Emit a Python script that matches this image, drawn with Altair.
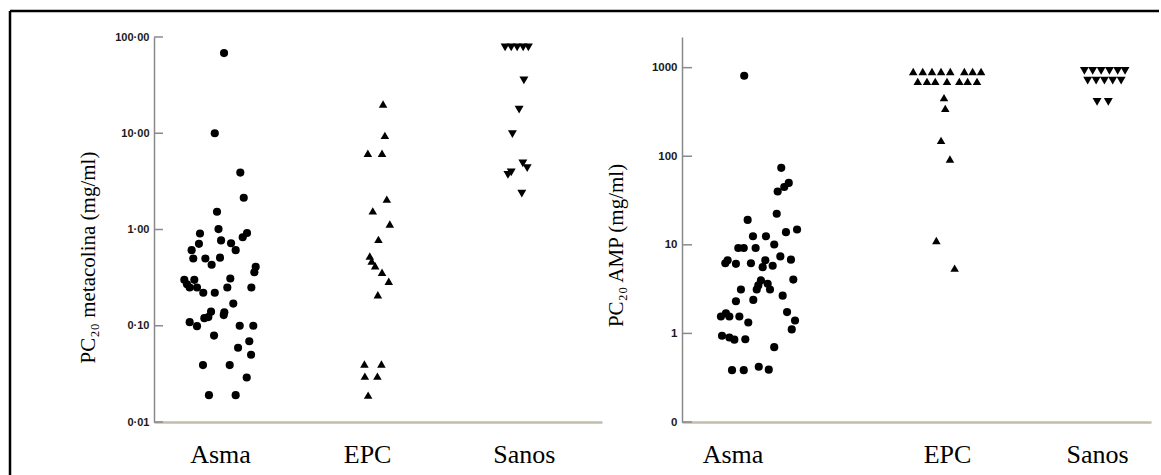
import altair as alt
import pandas as pd

# ---------------- data ----------------
groups = ["Asma", "EPC", "Sanos"]

# Left panel: PC20 metacolina (mg/ml)
meta_asma = [68, 10, 3.9, 2.14, 1.53, 1.01, 0.91, 0.92, 0.83, 0.71, 0.77, 0.72, 0.61, 0.61,
             0.50, 0.50, 0.51, 0.43, 0.41, 0.36, 0.31, 0.25, 0.25, 0.30, 0.27, 0.30, 0.25, 0.25,
             0.22, 0.22, 0.17, 0.138, 0.129, 0.14, 0.123, 0.12, 0.109, 0.099, 0.10, 0.10, 0.079,
             0.069, 0.059, 0.050, 0.039, 0.039, 0.029, 0.019, 0.019]
meta_asma_jit = [0.027, -0.035, 0.136, 0.159, -0.020, -0.010, -0.134, 0.181, 0.152, -0.141, 0.007,
                 0.074, 0.105, -0.190, -0.179, -0.098, 0.0, -0.056, 0.239, 0.230, 0.069, 0.210,
                 0.049, -0.239, -0.221, -0.172, -0.203, -0.154, -0.112, -0.035, 0.089, 0.029,
                 0.025, -0.060, -0.078, -0.105, -0.203, -0.154, 0.132, 0.223, -0.040, 0.196,
                 0.121, 0.208, -0.114, 0.065, 0.179, -0.074, 0.105]
meta_epc = [20.1, 9.5, 6.2, 6.2, 2.07, 1.56, 1.14, 0.79, 0.53, 0.47, 0.42, 0.36, 0.29, 0.21,
            0.040, 0.040, 0.030, 0.030, 0.019]
meta_epc_jit = [0.107, 0.119, 0.005, 0.100, 0.132, 0.038, 0.152, 0.076, 0.018, 0.031, 0.054,
                0.100, 0.145, 0.072, -0.018, 0.096, -0.015, 0.069, 0.007]
meta_sanos = [78, 78, 78, 78, 78, 35.5, 17.6, 9.8, 4.87, 4.33, 3.93, 3.69, 2.36]
meta_sanos_jit = [-0.125, -0.084, -0.044, -0.004, 0.031, 0.001, -0.031, -0.076, -0.006, 0.023,
                  -0.084, -0.106, -0.013]

# Right panel: PC20 AMP (mg/ml)
amp_asma = [810, 74, 40, 45, 50, 19.1, 22.4, 12.5, 12.5, 13.9, 14.9, 10.1, 9.2, 9.2, 9.2, 7.4,
            6.8, 6.7, 6.2, 6.1, 6.2, 6.7, 5.6, 5.8, 4.05, 3.97, 3.48, 3.64, 3.13, 3.13, 3.13,
            2.67, 2.39, 2.31, 1.69, 1.55, 1.55, 1.55, 1.33, 1.74, 1.40, 1.11, 0.94, 0.90, 0.85,
            0.86, 0.70, 0.385, 0.385, 0.42, 0.39]
amp_asma_jit = [0.075, 0.312, 0.289, 0.331, 0.360, 0.097, 0.283, 0.131, 0.214, 0.342, 0.413,
                0.267, 0.037, 0.072, 0.148, 0.306, 0.374, -0.031, -0.046, 0.022, 0.118, 0.210,
                0.193, 0.257, 0.389, 0.182, 0.165, 0.225, 0.240, 0.155, 0.054, 0.321, 0.133,
                0.022, -0.042, -0.074, -0.020, 0.044, 0.101, 0.349, 0.400, 0.379, -0.067,
                -0.020, 0.012, 0.082, 0.267, -0.003, 0.072, 0.168, 0.232]
amp_epc = [903] * 8 + [700] * 7 + [459, 347, 151, 93, 11.2, 5.46]
amp_epc_jit = [-0.216, -0.155, -0.096, -0.038, 0.021, 0.111, 0.164, 0.218,
               -0.187, -0.128, -0.075, 0.0, 0.079, 0.132, 0.192,
               -0.019, -0.011, -0.038, 0.019, -0.068, 0.049]
amp_sanos = [920] * 6 + [713] * 5 + [411] * 2
amp_sanos_jit = [-0.081, -0.028, 0.026, 0.079, 0.132, 0.179,
                 -0.060, -0.006, 0.047, 0.100, 0.154, 0.0, 0.072]

# axis tick values / labels
meta_ticks = [100, 10, 1, 0.1, 0.01]
meta_tick_labels = ["100·00", "10·00", "1·00", "0·10", "0·01"]
amp_ticks = [1000, 100, 10, 1, 0.1]
amp_tick_labels = ["1000", "100", "10", "1", "0"]

# ---------------- layout / style ----------------
CAT_POS_LEFT = [0.442, 1.427, 2.476]
CAT_POS_RIGHT = [0.323, 1.695, 2.655]
SERIF = "Liberation Serif"
SANS = "Liberation Sans"


def build_df(series, jits, cat_pos):
    rows = []
    for g, vals, jit, p in zip(groups, series, jits, cat_pos):
        for v, j in zip(vals, jit):
            rows.append({"group": g, "value": v, "x": p + j})
    return pd.DataFrame(rows)


def label_expr(values, labels):
    expr = "''"
    for v, lab in reversed(list(zip(values, labels))):
        expr = f"abs(datum.value - {v}) < {v} * 0.01 ? '{lab}' : " + expr
    return expr


def cat_expr(pos):
    return (f"datum.value < {(pos[0] + pos[1]) / 2} ? '{groups[0]}' : "
            f"datum.value < {(pos[1] + pos[2]) / 2} ? '{groups[1]}' : '{groups[2]}'")


def panel(df, cat_pos, ticks, tick_labels, domain, title, width, label_size, tick_len, frame):
    yenc = alt.Y(
        "value:Q",
        scale=alt.Scale(type="log", domain=domain, nice=False),
        axis=alt.Axis(
            values=ticks, labelExpr=label_expr(ticks, tick_labels), title=title,
            ticks=False, tickSize=0, grid=False, labelPadding=5,
            labelFont=SANS, labelFontWeight="bold", labelFontSize=label_size,
            labelColor="#1a1a1a", labelOverlap=False, labelFlush=False,
            domainColor="#8a8a8a", domainWidth=1.5,
            titleFont=SERIF, titleFontSize=21, titleFontWeight="normal",
            titleColor="black", titleX=-56, titleY=220 if frame else 208,
            titleAlign="center", titleBaseline="bottom", titleAngle=270,
        ),
    )
    xenc = alt.X(
        "x:Q",
        scale=alt.Scale(domain=[0, 3], nice=False, zero=False),
        axis=alt.Axis(
            values=cat_pos, labelExpr=cat_expr(cat_pos), title=None, ticks=False,
            tickSize=0, grid=False, labelFont=SERIF, labelFontSize=26, labelColor="black",
            labelPadding=19, labelFlush=False, labelOverlap=False,
            domainColor="#c2bea9", domainWidth=2.5,
        ),
    )
    pts = alt.Chart(df).mark_point(filled=True, opacity=1, color="black").encode(
        x=xenc, y=yenc,
        shape=alt.Shape("group:N", scale=alt.Scale(domain=groups,
                        range=["circle", "triangle-up", "triangle-down"]), legend=None),
        size=alt.Size("group:N", scale=alt.Scale(domain=groups, range=[66, 80, 80]),
                      legend=None),
    )
    tick_df = pd.DataFrame({"value": ticks})
    tick_rules = alt.Chart(tick_df).mark_rule(color="#8a8a8a", strokeWidth=1.5).encode(
        y=yenc, x=alt.value(0), x2=alt.value(tick_len))
    layers = [tick_rules, pts]
    if frame:
        one = alt.Data(values=[{"a": 1}])
        top = alt.Chart(one).mark_rule(color="black", strokeWidth=2.5).encode(
            x=alt.value(-144), x2=alt.value(1005), y=alt.value(-26))
        left = alt.Chart(one).mark_rule(color="black", strokeWidth=2.5).encode(
            x=alt.value(-144), y=alt.value(-26), y2=alt.value(438))
        layers = [top, left] + layers
    return alt.layer(*layers).properties(width=width, height=385)


left_df = build_df([meta_asma, meta_epc, meta_sanos],
                   [meta_asma_jit, meta_epc_jit, meta_sanos_jit], CAT_POS_LEFT)
right_df = build_df([amp_asma, amp_epc, amp_sanos],
                    [amp_asma_jit, amp_epc_jit, amp_sanos_jit], CAT_POS_RIGHT)

left = panel(left_df, CAT_POS_LEFT, meta_ticks, meta_tick_labels, [0.01, 100],
             "PC₂₀ metacolina  (mg/ml)", 448, 11, 9, True)
right = panel(right_df, CAT_POS_RIGHT, amp_ticks, amp_tick_labels, [0.1, 2218],
              "PC₂₀ AMP  (mg/ml)", 469, 11.5, 10, False)

chart = alt.hconcat(
    left, right, spacing=80, bounds="flush",
    padding={"left": 8, "top": 9, "right": 0, "bottom": 0},
    background="white",
).configure_view(stroke="transparent", strokeWidth=0)

chart.save("out.html", embed_options={"renderer": "svg", "actions": False})
